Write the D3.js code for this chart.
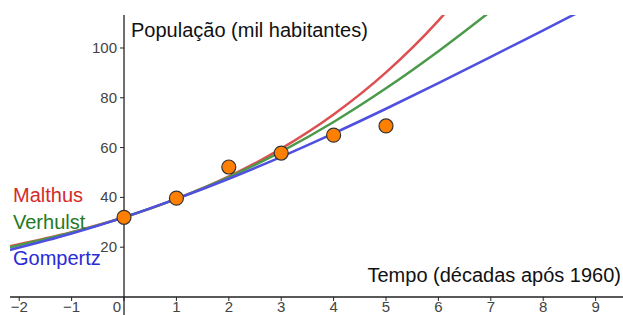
<!DOCTYPE html>
<html>
<head>
<meta charset="utf-8">
<script src="https://cdn.jsdelivr.net/npm/d3@7"></script>
<style>
  body { margin: 0; background: #fff; }
  text { font-family: "Liberation Sans", Arial, sans-serif; }
</style>
</head>
<body>
<div id="chart"></div>
<script>
// observed population (decades after 1960)
const decades = [0, 1, 2, 3, 4, 5]
const population = [32, 39.7, 52.2, 57.8, 65, 68.7]

// model curves, values
const curveT = [-2.2, -1, 0, 1, 2, 3, 4, 5, 6, 7, 8, 9]
const malthus = [20.3, 26.0, 32, 39.4, 48.4, 59.6, 73.3, 90.2, 111, 136.5, 168, 206]
const verhulst = [19.9, 25.9, 32, 39.4, 48.1, 58.4, 70.3, 83.8, 98.7, 114.8, 131.5, 148]
const gompertz = [18.8, 25.5, 32, 39.4, 47.5, 56.3, 65.7, 75.6, 85.9, 96.4, 107.1, 117.8]

const xTicks = [-2, -1, 0, 1, 2, 3, 4, 5, 6, 7, 8, 9]
const yTicks = [20, 40, 60, 80, 100]

const models = [
  {name: 'Malthus', values: malthus, color: '#dc5050', text: '#d42a2a', labelY: 202},
  {name: 'Verhulst', values: verhulst, color: '#4a9a4a', text: '#237a23', labelY: 229},
  {name: 'Gompertz', values: gompertz, color: '#4f4fe0', text: '#2a2ad8', labelY: 265}
]

const width = 623, height = 315
let svg = d3.select('#chart').append('svg')
            .attr('width', width).attr('height', height)

let x = d3.scaleLinear().domain([-2.176, 9.523]).range([10, 623])
let y = d3.scaleLinear().domain([-7.23, 113.25]).range([315, 15])

svg.append('clipPath').attr('id', 'clip')
   .append('rect').attr('x', 10).attr('y', 15).attr('width', 613).attr('height', 300)

//x axis
let xAxis = svg.append('g').attr('transform', `translate(0,${y(0)})`)
xAxis.append('line').attr('x1', 10).attr('x2', 623)
     .attr('stroke', '#222').attr('stroke-width', 1.3)
xAxis.selectAll('.xt').data(xTicks).enter().append('line')
     .attr('x1', d => x(d)).attr('x2', d => x(d)).attr('y1', 0).attr('y2', 4)
     .attr('stroke', '#222')
xAxis.selectAll('.xl').data(xTicks).enter().append('text')
     .attr('x', d => d === 0 ? x(d) - 3 : x(d))
     .attr('y', 15)
     .attr('text-anchor', d => d === 0 ? 'end' : 'middle')
     .attr('font-size', 15).attr('fill', '#444')
     .text(d => d < 0 ? '\u2212' + Math.abs(d) : d)

//y axis
let yAxis = svg.append('g').attr('transform', `translate(${x(0)},0)`)
yAxis.append('line').attr('y1', 15).attr('y2', 315)
     .attr('stroke', '#222').attr('stroke-width', 1.3)
yAxis.selectAll('.yt').data(yTicks).enter().append('line')
     .attr('x1', -4).attr('x2', 0).attr('y1', d => y(d)).attr('y2', d => y(d))
     .attr('stroke', '#222')
yAxis.selectAll('.yl').data(yTicks).enter().append('text')
     .attr('x', -7).attr('y', d => y(d) + 5)
     .attr('text-anchor', 'end')
     .attr('font-size', 15).attr('fill', '#444')
     .text(d => d)

//axis titles
svg.append('text').attr('x', 131).attr('y', 37)
   .attr('font-size', 20).attr('fill', '#111').text('População (mil habitantes)')
svg.append('text').attr('x', 621).attr('y', 282).attr('text-anchor', 'end')
   .attr('font-size', 20).attr('fill', '#111').text('Tempo (décadas após 1960)')

//model curves
let line = d3.line().x((d, i) => x(curveT[i])).y(d => y(d)).curve(d3.curveMonotoneX)
svg.append('g').attr('clip-path', 'url(#clip)')
   .selectAll('path').data(models).enter().append('path')
   .attr('d', d => line(d.values))
   .attr('fill', 'none').attr('stroke', d => d.color).attr('stroke-width', 2.5)

//legend labels
svg.selectAll('.legend').data(models).enter().append('text')
   .attr('x', 13).attr('y', d => d.labelY)
   .attr('font-size', 20).attr('fill', d => d.text)
   .text(d => d.name)

//data points
svg.selectAll('circle').data(decades).enter().append('circle')
   .attr('cx', d => x(d)).attr('cy', (d, i) => y(population[i]))
   .attr('r', 7).attr('fill', '#ff8000')
   .attr('stroke', '#333').attr('stroke-width', 1.2)
</script>
</body>
</html>
